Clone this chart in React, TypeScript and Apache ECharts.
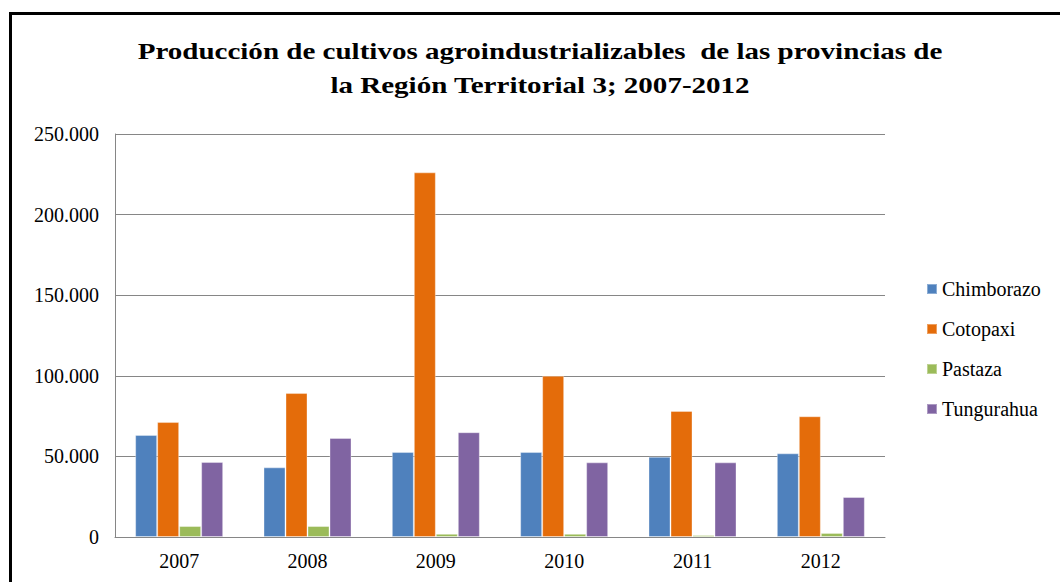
import React, { useEffect, useRef } from "react";
import * as echarts from "echarts";

const years = ["2007", "2008", "2009", "2010", "2011", "2012"];
const seriesNames = ["Chimborazo", "Cotopaxi", "Pastaza", "Tungurahua"];
const chimborazo = [63300, 43200, 52700, 52700, 49800, 51900];
const cotopaxi = [71300, 89300, 226200, 100000, 78200, 74900];
const pastaza = [6800, 6800, 2000, 2000, 1200, 2500];
const tungurahua = [46500, 61400, 65000, 46300, 46300, 24800];
const colors = ["#4F81BD", "#E46C0A", "#9BBB59", "#8064A2"];
const titleLines = [
  "Producción de cultivos agroindustrializables  de las provincias de",
  "la Región Territorial 3; 2007-2012",
];

const FONT = "Liberation Serif";

function fmt(v: number): string {
  return String(Math.round(v)).replace(/\B(?=(\d{3})+(?!\d))/g, ".");
}

export default function App() {
  const ref = useRef<HTMLDivElement>(null);
  useEffect(() => {
    if (!ref.current) return;
    const chart = echarts.init(ref.current, null, { renderer: "svg" });
    const data = [chimborazo, cotopaxi, pastaza, tungurahua];
    chart.setOption({
      animation: false,
      backgroundColor: "#ffffff",
      textStyle: { fontFamily: FONT },
      legend: {
        orient: "vertical",
        left: 926,
        top: 279,
        padding: 0,
        itemWidth: 10,
        itemHeight: 10,
        itemGap: 20,
        icon: "rect",
        data: seriesNames,
        textStyle: { fontFamily: FONT, fontSize: 20, color: "#000" },
      },
      grid: { left: 115, right: 175, top: 134, bottom: 45, containLabel: false },
      xAxis: {
        type: "category",
        data: years,
        axisLine: { show: true, lineStyle: { color: "#868686", width: 1 } },
        axisTick: { show: false },
        axisLabel: { fontFamily: FONT, fontSize: 20, color: "#000", margin: 14 },
      },
      yAxis: {
        type: "value",
        min: 0,
        max: 250000,
        interval: 50000,
        axisLine: { show: true, lineStyle: { color: "#868686", width: 1 } },
        axisTick: { show: false },
        splitLine: { show: true, lineStyle: { color: "#868686", width: 1 } },
        axisLabel: {
          fontFamily: FONT,
          fontSize: 20,
          color: "#000",
          margin: 16,
          formatter: (v: number) => fmt(v),
        },
      },
      series: seriesNames.map((name, i) => ({
        name,
        type: "bar",
        data: data[i],
        barWidth: 22,
        barGap: "0%",
        itemStyle: { color: colors[i], borderColor: "rgba(255,255,255,0.35)", borderWidth: 1 },
      })),
      graphic: [
        {
          type: "rect",
          shape: { x: 10.5, y: 13.5, width: 1200, height: 800 },
          style: { fill: "none", stroke: "#000", lineWidth: 3 },
          silent: true,
        },
        ...titleLines.map((t, i) => ({
          type: "text",
          x: 540,
          y: 51 + i * 34,
          scaleX: 1.21,
          silent: true,
          style: {
            text: t,
            fontFamily: FONT,
            fontWeight: "bold",
            fontSize: 24,
            fill: "#000",
            align: "center",
            verticalAlign: "middle",
          },
        })),
      ],
    });
    return () => chart.dispose();
  }, []);
  return (
    <div
      ref={ref}
      style={{ position: "absolute", left: 0, top: 0, width: 1060, height: 582 }}
    />
  );
}
